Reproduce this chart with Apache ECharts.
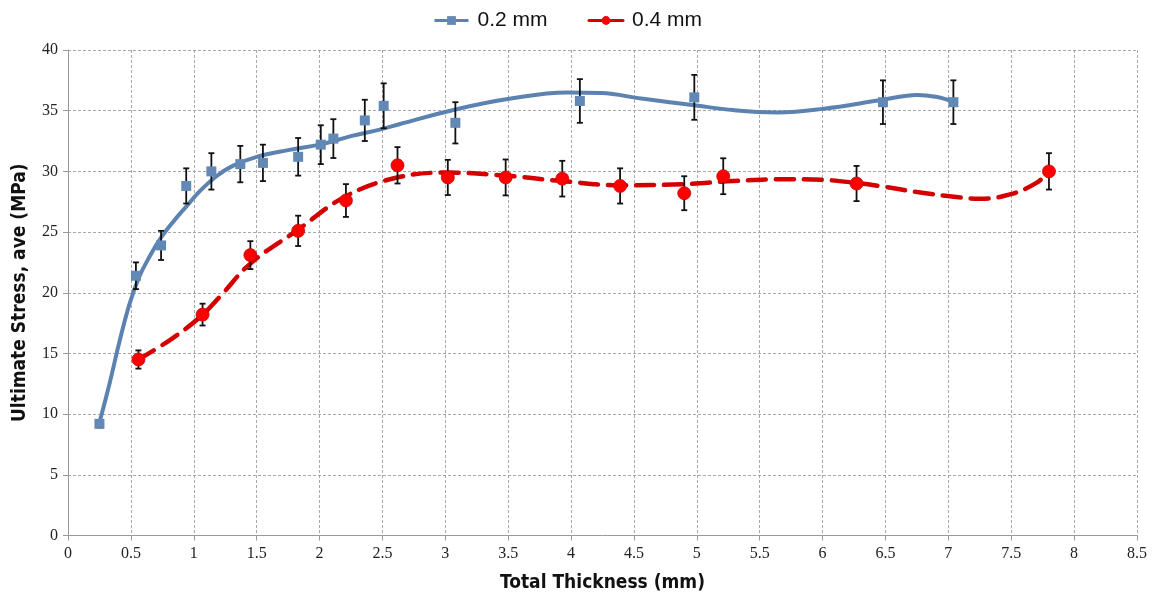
<!DOCTYPE html>
<html>
<head>
<meta charset="utf-8">
<script src="https://cdn.jsdelivr.net/npm/echarts@6/dist/echarts.min.js"></script>
<style>
html,body{margin:0;padding:0;background:#fff;}
#chart{width:1160px;height:598px;}
</style>
</head>
<body>
<div id="chart"></div>
<script>
// ---- data ----
const seriesNames = ['0.2 mm', '0.4 mm'];

const x02 = [0.25, 0.54, 0.74, 0.94, 1.14, 1.37, 1.55, 1.83, 2.01, 2.11, 2.36, 2.51, 3.08, 4.07, 4.98, 6.48, 7.04];
const y02 = [9.2, 21.4, 23.9, 28.8, 30.0, 30.6, 30.7, 31.2, 32.2, 32.7, 34.2, 35.4, 34.0, 35.8, 36.1, 35.7, 35.7];
const e02 = [0.3, 1.1, 1.2, 1.45, 1.5, 1.5, 1.5, 1.55, 1.6, 1.6, 1.7, 1.85, 1.7, 1.8, 1.85, 1.8, 1.8];

const x04 = [0.56, 1.07, 1.45, 1.83, 2.21, 2.62, 3.02, 3.48, 3.93, 4.39, 4.9, 5.21, 6.27, 7.8];
const y04 = [14.5, 18.2, 23.1, 25.1, 27.6, 30.5, 29.5, 29.5, 29.4, 28.8, 28.2, 29.6, 29.0, 30.0];
const e04 = [0.75, 0.9, 1.15, 1.25, 1.35, 1.5, 1.45, 1.48, 1.47, 1.45, 1.4, 1.48, 1.45, 1.5];

// trend (fit) curves
const trend02x = [0.25, 0.33, 0.41, 0.49, 0.57, 0.65, 0.73, 0.84, 0.94, 1.05, 1.18, 1.31, 1.5, 1.75, 2.0, 2.25, 2.5, 2.64, 3.08, 3.52, 3.97, 4.24, 4.56, 4.98, 5.29, 5.64, 6.0, 6.48, 6.75, 6.9, 7.04];
const trend02y = [9.3, 12.5, 16.0, 19.1, 21.4, 23.0, 24.4, 25.9, 27.1, 28.4, 29.6, 30.45, 31.2, 31.75, 32.2, 32.9, 33.5, 33.9, 35.1, 36.0, 36.5, 36.45, 36.0, 35.45, 35.05, 34.86, 35.15, 35.9, 36.3, 36.15, 35.75];
const trend04x = [0.56, 0.81, 1.05, 1.21, 1.45, 1.83, 2.2, 2.6, 3.02, 3.48, 3.93, 4.39, 4.9, 5.29, 5.7, 6.0, 6.27, 6.48, 6.75, 7.01, 7.25, 7.49, 7.7, 7.8];
const trend04y = [14.5, 16.1, 18.0, 19.7, 22.4, 25.2, 27.9, 29.45, 29.9, 29.65, 29.2, 28.85, 28.95, 29.2, 29.35, 29.3, 29.05, 28.75, 28.3, 27.95, 27.75, 28.1, 29.05, 30.0];

const xTicks = {min: 0, max: 8.5, step: 0.5};
const yTicks = {min: 0, max: 40, step: 5};

// ---- build ----
const zip = (a, b) => a.map((v, i) => [v, b[i]]);
const zip3 = (a, b, c) => a.map((v, i) => [v, b[i], c[i]]);

const blueLine = '#5b82b0', blueMark = '#6289b5';
const redLine = '#d40000', redMark = '#ff0000';
const tickFont = "'Liberation Serif', 'Times New Roman', serif";
const titleFont = "'Liberation Sans Narrow', 'Arial Narrow', 'DejaVu Sans Condensed', sans-serif";

function errorBars(params, api) {
  const x = api.value(0), y = api.value(1), e = api.value(2);
  const top = api.coord([x, y + e]);
  const bot = api.coord([x, y - e]);
  const w = 3;
  const st = {stroke: '#111', lineWidth: 1.8};
  return {
    type: 'group',
    children: [
      {type: 'line', shape: {x1: top[0], y1: top[1], x2: bot[0], y2: bot[1]}, style: st},
      {type: 'line', shape: {x1: top[0] - w, y1: top[1], x2: top[0] + w, y2: top[1]}, style: st},
      {type: 'line', shape: {x1: bot[0] - w, y1: bot[1], x2: bot[0] + w, y2: bot[1]}, style: st}
    ]
  };
}

const chart = echarts.init(document.getElementById('chart'));
chart.setOption({
  animation: false,
  backgroundColor: '#fff',
  legend: {
    data: seriesNames,
    left: 428,
    top: 5,
    itemWidth: 34,
    itemHeight: 11,
    itemGap: 40,
    lineStyle: {type: 'solid', width: 3},
    textStyle: {fontFamily: "'Liberation Sans', Arial, sans-serif", fontSize: 21, color: '#111', padding: [0, 0, 0, 4]}
  },
  grid: {left: 68, right: 23, top: 50, bottom: 62.5, containLabel: false, outerBoundsMode: 'none'},
  xAxis: {
    type: 'value',
    min: xTicks.min, max: xTicks.max, interval: xTicks.step,
    name: 'Total Thickness (mm)',
    nameLocation: 'middle',
    nameGap: 38,
    nameTextStyle: {fontFamily: titleFont, fontWeight: 'bold', fontSize: 19, color: '#111'},
    axisLine: {show: true, onZero: false, lineStyle: {color: '#999', width: 1}},
    axisTick: {show: true, length: 5, lineStyle: {color: '#999'}},
    axisLabel: {fontFamily: tickFont, fontSize: 16, color: '#222', margin: 10},
    splitLine: {show: true, lineStyle: {color: '#a8a8a8', type: [3, 2], width: 1}}
  },
  yAxis: {
    type: 'value',
    min: yTicks.min, max: yTicks.max, interval: yTicks.step,
    name: 'Ultimate Stress, ave (MPa)',
    nameLocation: 'middle',
    nameRotate: 90,
    nameGap: 38,
    nameTextStyle: {fontFamily: titleFont, fontWeight: 'bold', fontSize: 19, color: '#111'},
    axisLine: {show: true, lineStyle: {color: '#999', width: 1}},
    axisTick: {show: true, length: 5, lineStyle: {color: '#999'}},
    axisLabel: {fontFamily: tickFont, fontSize: 16, color: '#222', margin: 10},
    splitLine: {show: true, lineStyle: {color: '#a8a8a8', type: [3, 2], width: 1}}
  },
  series: [
    {
      name: seriesNames[0], type: 'line', data: zip(trend02x, trend02y),
      smooth: 0.4, showSymbol: false, symbol: 'rect', symbolSize: 9,
      lineStyle: {color: blueLine, width: 4}, itemStyle: {color: blueMark}, z: 2
    },
    {
      name: seriesNames[1], type: 'line', data: zip(trend04x, trend04y),
      smooth: 0.4, showSymbol: false, symbol: 'circle', symbolSize: 11,
      lineStyle: {color: redLine, width: 4.5, type: [18, 10], cap: 'round'}, itemStyle: {color: redMark}, z: 2
    },
    {name: 'err02', type: 'custom', renderItem: errorBars, data: zip3(x02, y02, e02), z: 3},
    {name: 'err04', type: 'custom', renderItem: errorBars, data: zip3(x04, y04, e04), z: 3},
    {
      name: 'pts02', type: 'scatter', data: zip(x02, y02), symbol: 'rect', symbolSize: 10,
      itemStyle: {color: blueMark, opacity: 1}, z: 4
    },
    {
      name: 'pts04', type: 'scatter', data: zip(x04, y04), symbol: 'circle', symbolSize: 13,
      itemStyle: {color: redMark, opacity: 1, borderColor: '#d00000', borderWidth: 0.8}, z: 4
    }
  ]
});
</script>
</body>
</html>
